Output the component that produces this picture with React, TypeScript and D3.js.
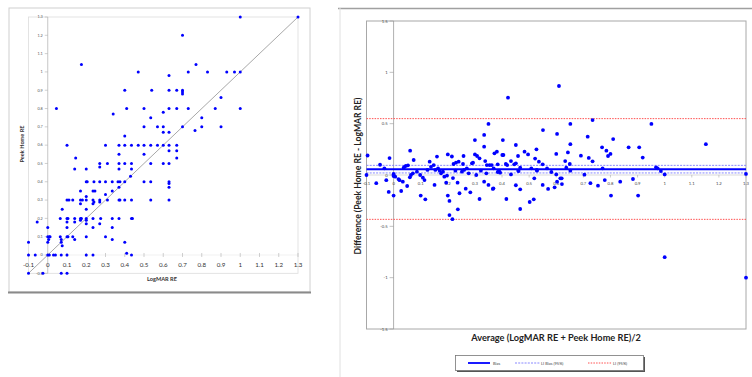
import React from "react";
import * as d3 from "d3";

// ---------- Data ----------
// Left: scatter LogMAR RE (x) vs Peek Home RE (y)
const logmarRE: number[] = [
  1.0, 1.3, 0.7, 0.175, 0.77, 0.47, 0.73, 0.83, 0.93, 0.97, 1.0, 0.63,
  0.4, 0.54, 0.63, 0.67, 0.7, 0.7, 0.7, 0.9,
  0.045, 0.41, 0.5, 0.63, 0.67, 0.73, 0.87, 1.0, 0.34, 0.6, 0.535, 0.8,
  0.5, 0.57, 0.6, 0.7, 0.8, 0.9, 0.6, 0.63, 0.765, 0.4,
  0.1, 0.3, 0.37, 0.4, 0.435, 0.47, 0.5, 0.535, 0.57, 0.6, 0.63, 0.67, 0.63, 0.67, 0.5, 0.37, 0.67, 0.145,
  0.27, 0.31, 0.37, 0.4, 0.435, 0.535, 0.6, 0.63, 0.27, 0.37, 0.14, 0.2, 0.435, 0.43,
  0.2, 0.205, 0.24, 0.27, 0.3, 0.335, 0.365, 0.375, 0.4, 0.5, 0.535, 0.63, 0.63, 0.63, 0.17, 0.235, 0.245, 0.335, 0.37, 0.3,
  0.1, 0.11, 0.13, 0.17, 0.18, 0.2, 0.235, 0.27, 0.31, 0.37, 0.375, 0.4, 0.435, 0.535, 0.63, 0.17, 0.2, 0.235, 0.24, 0.27, 0.2, 0.075,
  0.065, 0.1, 0.105, 0.14, 0.17, 0.175, 0.2, 0.235, 0.275, 0.335, 0.37, 0.435, 0.44, -0.055, 0.1, 0.14, 0.17, 0.2, 0.2, 0.27, 0.1, 0.0, 0.235, 0.335,
  0.0, 0.008, 0.012, 0.065, 0.1, 0.105, 0.13, 0.2, 0.3, 0.005, 0.07, 0.14, 0.335, 0.07, 0.075, 0.4, -0.1, 0.0,
  -0.1, -0.065, 0, 0.008, 0.03, 0.04, 0.07, 0.1, 0.2, 0.235, 0.41, 0.435,
  -0.1, -0.025, 0.07, 0.1,
];
const peekHomeRE: number[] = [
  1.3, 1.3, 1.2, 1.04, 1.04, 1.0, 1.0, 1.0, 1.0, 1.0, 1.0, 0.98,
  0.9, 0.9, 0.9, 0.9, 0.9, 0.89, 0.88, 0.86,
  0.8, 0.8, 0.8, 0.8, 0.8, 0.8, 0.8, 0.8, 0.77, 0.78, 0.75, 0.75,
  0.7, 0.7, 0.7, 0.7, 0.7, 0.7, 0.67, 0.67, 0.68, 0.65,
  0.6, 0.6, 0.6, 0.6, 0.6, 0.6, 0.6, 0.6, 0.6, 0.6, 0.6, 0.6, 0.57, 0.57, 0.55, 0.55, 0.53, 0.53,
  0.5, 0.5, 0.5, 0.5, 0.5, 0.5, 0.5, 0.5, 0.48, 0.47, 0.47, 0.47, 0.47, 0.43,
  0.4, 0.4, 0.4, 0.4, 0.4, 0.4, 0.4, 0.4, 0.4, 0.4, 0.4, 0.4, 0.39, 0.37, 0.35, 0.35, 0.35, 0.35, 0.37, 0.33,
  0.3, 0.3, 0.3, 0.3, 0.3, 0.3, 0.3, 0.3, 0.3, 0.3, 0.3, 0.3, 0.3, 0.3, 0.3, 0.28, 0.32, 0.28, 0.29, 0.29, 0.25, 0.25,
  0.2, 0.2, 0.2, 0.2, 0.2, 0.2, 0.2, 0.2, 0.2, 0.2, 0.2, 0.2, 0.2, 0.18, 0.18, 0.18, 0.19, 0.19, 0.17, 0.17, 0.15, 0.15, 0.15, 0.15,
  0.1, 0.1, 0.1, 0.1, 0.1, 0.1, 0.1, 0.1, 0.1, 0.085, 0.085, 0.085, 0.085, 0.07, 0.05, 0.07, 0.07, 0.07,
  0, 0, 0, 0, 0, 0, 0, 0, 0, 0, 0.01, 0,
  -0.1, -0.1, -0.1, -0.1,
];

// Right: Bland-Altman average (x) vs difference (y)
const averageRE: number[] = [
  -0.096, -0.1, -0.064, -0.05, -0.034, -0.027, -0.015, -0.018, 0, 0, 0, 0, 0.006, 0.018, 0.022, 0.028, 0.034,
  0.037, 0.04, 0.045, 0.053, 0.05, 0.06, 0.061, 0.064, 0.074, 0.071, 0.086, 0.098, 0.1, 0.108, 0.114, 0.117,
  0.125, 0.133, 0.138, 0.148, 0.151, 0.154, 0.16, 0.164, 0.17, 0.175, 0.182, 0.187, 0.194, 0.197, 0.2, 0.2, 0.206,
  0.206, 0.217, 0.215, 0.219, 0.221, 0.228, 0.23, 0.236, 0.24, 0.237, 0.243, 0.252, 0.256, 0.258, 0.26, 0.266,
  0.27, 0.277, 0.283, 0.289, 0.293, 0.3, 0.3, 0.305, 0.308, 0.317, 0.317, 0.322, 0.334, 0.334, 0.334, 0.338,
  0.342, 0.344, 0.35, 0.35, 0.354, 0.362, 0.366, 0.368, 0.369, 0.372, 0.381, 0.384, 0.384, 0.389, 0.393, 0.401,
  0.403, 0.405, 0.414, 0.416, 0.419, 0.422, 0.433, 0.433, 0.445, 0.451, 0.451, 0.451, 0.459, 0.46, 0.461, 0.467,
  0.467, 0.467, 0.483, 0.496, 0.502, 0.508, 0.517, 0.519, 0.522, 0.527, 0.528, 0.529, 0.536, 0.551, 0.55, 0.55,
  0.566, 0.57, 0.582, 0.594, 0.6, 0.6, 0.603, 0.603, 0.61, 0.615, 0.62, 0.621, 0.633, 0.637, 0.643, 0.65, 0.652,
  0.652, 0.652, 0.691, 0.704, 0.716, 0.72, 0.726, 0.734, 0.734, 0.754, 0.769, 0.771, 0.779, 0.785, 0.791, 0.8,
  0.802, 0.81, 0.836, 0.867, 0.883, 0.902, 0.906, 0.919, 0.951, 0.968, 0.974, 0.986, 1.0, 1.0, 1.152, 1.3, 1.3,
];
const differenceRE: number[] = [
  0.19, 0, -0.08, 0.1, 0.065, -0.05, 0.165, -0.165, 0.01, 0, -0.01, -0.2, -0.016, -0.04, -0.05, -0.156, -0.065,
  0.07, 0.08, 0.088, 0.094, -0.107, -0.023, 0.237, 0, 0.146, 0.016, 0.032, 0, -0.2, -0.026, -0.049, -0.237,
  0.049, 0.13, 0.08, 0.097, -0.097, 0.049, 0.179, 0.065, 0.042, 0.016, 0.032, -0.016, -0.075, -0.006, 0.2, -0.2, -0.253,
  -0.39, -0.43, 0.18, -0.03, 0.107, 0.042, 0.12, -0.075, 0.13, -0.334, -0.178, 0.032, 0.107, 0.185, 0.049, -0.133,
  0.065, 0.016, -0.169, 0.114, 0.12, 0.2, 0.34, 0, 0.185, 0.162, -0.234, 0.042, -0.065, 0.39, 0.276, 0.136,
  0.016, 0.097, 0.497, -0.097, 0.097, 0.097, -0.136, -0.13, 0.065, 0.211, 0.227, 0.029, 0.104, 0.042, 0.023, 0.195,
  0.34, 0.195, 0.107, -0.234, 0.097, 0.753, 0.136, 0.006, 0.104, 0.292, 0.114, -0.1, 0.185, 0.042, 0.039, -0.14,
  -0.331, 0.071, 0.227, 0.2, -0.263, 0.065, -0.237, -0.032, 0.16, 0.25, 0.049, 0.042, 0.13, 0.438, 0.104, -0.097,
  0.065, -0.136, 0.029, -0.12, 0.205, 0.006, 0.4, -0.065, 0.867, -0.032, -0.032, -0.088, 0.136, 0.071, 0.22, 0.107, 0.497,
  0.3, 0.042, 0.188, 0.003, 0.373, 0.166, -0.08, 0.535, 0.133, -0.104, 0.27, 0.065, -0.049, 0.237, 0.185, 0.205,
  -0.2, 0.35, -0.065, 0.27, -0.039, -0.2, 0.27, 0.17, 0.497, 0.075, 0.065, 0.039, 0.006, -0.8, 0.3, 0.01, -1.0,
];

const biasValue = 0.056;
const biasCI: number[] = [0.02, 0.094];
const limitsOfAgreement: number[] = [-0.432, 0.549];

const xTickValues: number[] = [-0.1, 0, 0.1, 0.2, 0.3, 0.4, 0.5, 0.6, 0.7, 0.8, 0.9, 1, 1.1, 1.2, 1.3];
const leftYTickValues: number[] = [-0.1, 0, 0.1, 0.2, 0.3, 0.4, 0.5, 0.6, 0.7, 0.8, 0.9, 1, 1.1, 1.2, 1.3];
const rightYTickValues: number[] = [-1.5, -1, -0.5, 0, 0.5, 1, 1.5];

const legendLabels: string[] = ["Bias", "LI Bias (95%)", "LI (95%)"];

const fmt = (v: number) => String(+v.toFixed(1));
const FONT = "Lato, 'Open Sans', 'DejaVu Sans', sans-serif";

export default function App() {
  // left scales
  const xL = d3.scaleLinear().domain([-0.1, 1.3]).range([28.5, 298]);
  const yL = d3.scaleLinear().domain([-0.1, 1.3]).range([273.3, 17]);
  // right scales
  const xR = d3.scaleLinear().domain([-0.1, 1.3]).range([366.5, 746]);
  const yR = d3.scaleLinear().domain([-1.5, 1.5]).range([329, 21]);

  const diag = d3.line<number>().x((d) => xL(d)).y((d) => yL(d));

  const blue = "#0000ff";

  return (
    <svg
      width={752}
      height={377}
      style={{ position: "absolute", left: 0, top: 0, background: "#fff" }}
      fontFamily={FONT}
    >
      {/* ---------- LEFT PANEL ---------- */}
      <rect x={9} y={8} width={301} height={284} fill="#fff" stroke="#d0d0d0" strokeWidth={1} />
      <line x1={8} x2={311} y1={292.5} y2={292.5} stroke="#8a8a8a" strokeWidth={2} />
      {/* plot area */}
      <rect x={xL(-0.1)} y={yL(1.3)} width={xL(1.3) - xL(-0.1)} height={yL(-0.1) - yL(1.3)} fill="none" stroke="#dcdcdc" strokeWidth={0.8} />
      {/* y axis at x=0 */}
      <line x1={xL(0)} x2={xL(0)} y1={yL(1.3)} y2={yL(-0.1)} stroke="#b8b8b8" strokeWidth={0.8} />
      {/* x axis at y=0 */}
      <line x1={xL(-0.1)} x2={xL(1.3)} y1={yL(0)} y2={yL(0)} stroke="#e4e4e4" strokeWidth={0.5} />
      {leftYTickValues.map((v) => (
        <g key={"ly" + v}>
          <line x1={xL(0) - 3} x2={xL(0)} y1={yL(v)} y2={yL(v)} stroke="#b0b0b0" strokeWidth={0.6} />
          <text x={xL(0) - 5} y={yL(v) + 1.3} fontSize={3.8} textAnchor="end" fill="#555">
            {fmt(v)}
          </text>
        </g>
      ))}
      {xTickValues.map((v) => (
        <g key={"lx" + v}>
          <line x1={xL(v)} x2={xL(v)} y1={yL(0) - 2} y2={yL(0) + 2} stroke="#b0b0b0" strokeWidth={0.6} />
          <text x={xL(v)} y={yL(0) + 12} fontSize={6.2} textAnchor="middle" fill="#333">
            {fmt(v)}
          </text>
        </g>
      ))}
      <path d={diag([-0.1, 1.3]) || ""} stroke="#a8a8a8" strokeWidth={1} fill="none" />
      {logmarRE.map((x, i) => (
        <circle key={"lp" + i} cx={xL(x)} cy={yL(peekHomeRE[i])} r={1.5} fill={blue} />
      ))}
      <text
        transform={`translate(${24},${144}) rotate(-90)`}
        fontSize={5.6}
        fontWeight="bold"
        textAnchor="middle"
        fill="#333"
      >
        Peek Home RE
      </text>
      <text x={162} y={281} fontSize={5.6} fontWeight="bold" textAnchor="middle" fill="#333">
        LogMAR RE
      </text>

      {/* ---------- RIGHT PANEL ---------- */}
      <line x1={338} x2={752} y1={8.5} y2={8.5} stroke="#a0a0a0" strokeWidth={1.5} />
      <line x1={340} x2={340} y1={8} y2={377} stroke="#e0e0e0" strokeWidth={1} />
      <rect x={xR(-0.1)} y={yR(1.5)} width={xR(1.3) - xR(-0.1)} height={yR(-1.5) - yR(1.5)} fill="#fff" stroke="#a8a8a8" strokeWidth={1} />
      {/* y axis at x = 0 */}
      <line x1={xR(0)} x2={xR(0)} y1={yR(1.5)} y2={yR(-1.5)} stroke="#9a9a9a" strokeWidth={0.8} />
      {/* x axis at y=0 */}
      <line x1={xR(-0.1)} x2={xR(1.3)} y1={yR(0)} y2={yR(0)} stroke="#c0c0c0" strokeWidth={0.6} />
      {rightYTickValues.map((v) => (
        <g key={"ry" + v}>
          <line x1={xR(0) - 4} x2={xR(0)} y1={yR(v)} y2={yR(v)} stroke="#999" strokeWidth={0.6} />
          <text x={xR(0) - 6} y={yR(v) + 1.5} fontSize={4.2} textAnchor="end" fill="#444">
            {fmt(v)}
          </text>
        </g>
      ))}
      {xTickValues.map((v) => (
        <g key={"rx" + v}>
          <line x1={xR(v)} x2={xR(v)} y1={yR(0)} y2={yR(0) + 2.5} stroke="#aaa" strokeWidth={0.6} />
          <text x={xR(v)} y={yR(0) + 9.5} fontSize={4.2} textAnchor="middle" fill="#444">
            {fmt(v)}
          </text>
        </g>
      ))}
      {/* limits of agreement */}
      {limitsOfAgreement.map((v, i) => (
        <line key={"loa" + i} x1={xR(-0.1)} x2={xR(1.3)} y1={yR(v)} y2={yR(v)} stroke="#ff5050" strokeWidth={1} strokeDasharray="1.5,1.2" />
      ))}
      {biasCI.map((v, i) => (
        <line key={"bci" + i} x1={xR(-0.1)} x2={xR(1.3)} y1={yR(v)} y2={yR(v)} stroke="#7a7aff" strokeWidth={0.9} strokeDasharray="2,1.2" />
      ))}
      <line x1={xR(-0.1)} x2={xR(1.3)} y1={yR(biasValue)} y2={yR(biasValue)} stroke={blue} strokeWidth={1.8} />
      {averageRE.map((x, i) => (
        <circle key={"rp" + i} cx={xR(x)} cy={yR(differenceRE[i])} r={1.9} fill={blue} />
      ))}
      <text
        transform={`translate(${361},${176}) rotate(-90)`}
        fontSize={8.6}
        fontWeight="bold"
        textAnchor="middle"
        fill="#222"
      >
        Difference (Peek Home RE - LogMAR RE)
      </text>
      <text x={556} y={341} fontSize={9.2} fontWeight="bold" textAnchor="middle" fill="#222">
        Average (LogMAR RE + Peek Home RE)/2
      </text>

      {/* legend */}
      <rect x={457} y={357} width={188} height={15} fill="#555" />
      <rect x={455.5} y={355.5} width={188} height={15} fill="#fff" stroke="#777" strokeWidth={0.8} />
      <line x1={468} x2={490} y1={363} y2={363} stroke={blue} strokeWidth={1.8} />
      <text x={493} y={364.5} fontSize={4} fill="#444">{legendLabels[0]}</text>
      <line x1={515} x2={540} y1={363} y2={363} stroke="#7a7aff" strokeWidth={0.9} strokeDasharray="2,1.2" />
      <text x={541} y={364.5} fontSize={4} fill="#444">{legendLabels[1]}</text>
      <line x1={588} x2={612} y1={363} y2={363} stroke="#ff5050" strokeWidth={1} strokeDasharray="1.5,1.2" />
      <text x={613} y={364.5} fontSize={4} fill="#444">{legendLabels[2]}</text>
    </svg>
  );
}
